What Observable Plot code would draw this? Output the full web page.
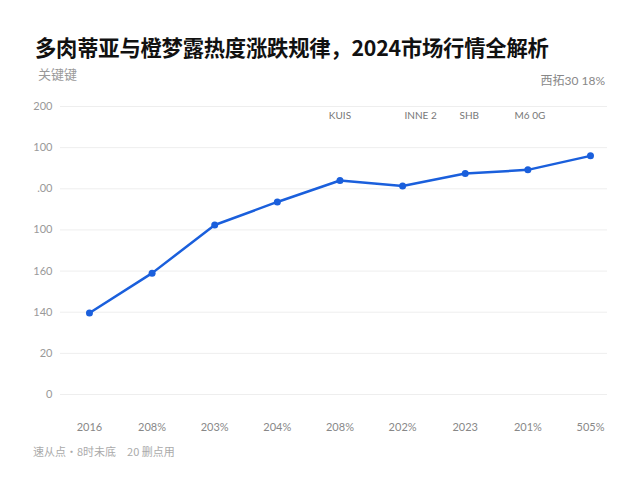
<!DOCTYPE html>
<html><head><meta charset="utf-8">
<script src="https://cdn.jsdelivr.net/npm/d3@7"></script>
<script src="https://cdn.jsdelivr.net/npm/@observablehq/plot@0.6"></script>
<style>
body{margin:0;width:640px;height:480px;background:#fff;position:relative;overflow:hidden;font-family:"Noto Sans CJK SC","Noto Sans",sans-serif;}
#title{position:absolute;left:35px;top:31px;font-size:21.3px;font-weight:bold;color:#111;white-space:nowrap;letter-spacing:-0.2px;}
#ylab{position:absolute;left:38px;top:64px;font-size:13px;color:#999;}
#note{position:absolute;right:35px;top:71px;font-size:12px;color:#888;font-family:Lato,"Noto Sans CJK SC",sans-serif;}
#cap{position:absolute;left:33px;top:443px;font-size:11px;color:#aaa;}
#chart{position:absolute;left:0;top:60px;}
</style></head>
<body>
<div id="title">多肉蒂亚与橙梦露热度涨跌规律，2024市场行情全解析</div>
<div id="ylab">关键键</div>
<div id="note">西拓30 18%</div>
<div id="cap">速从点·8时未底　20 删点用</div>
<div id="chart"></div>
<script>
const categories = ["2016","208%","203%","204%","208%","202%","2023","201%","505%"];
const values = [39.6, 59, 82.4, 93.6, 104, 101.4, 107.4, 109.2, 116];
const yTickValues = [0, 20, 40, 60, 80, 100, 120, 140];
const yTickLabels = ["0", "20", "140", "160", "100", ".00", "100", "200"];
const annoIndex = [4, 5, 6, 7];
const annoTexts = ["KUIS", "INNE 2", "SHB", "M6 0G"];
const annoShift = [0, 18, 4, 2];

const idx = categories.map((c, i) => i);
const data = categories.map((c, i) => ({i, v: values[i]}));
const anno = annoIndex.map((k, j) => ({i: k, t: annoTexts[j], dx: annoShift[j]}));
const blue = "#1a5fdc";

const chart = Plot.plot({
  width: 640,
  height: 400,
  marginLeft: 60,
  marginRight: 33,
  marginTop: 46,
  marginBottom: 66,
  style: {fontFamily: "Lato, 'Noto Sans', sans-serif", fontSize: "11px", color: "#999", background: "transparent"},
  x: {type: "point", domain: idx, padding: 0.367, align: 0.63, round: false, label: null},
  y: {domain: [0, 140], label: null},
  marks: [
    Plot.ruleY(yTickValues, {stroke: "#eeeeee", strokeWidth: 1}),
    Plot.axisY({ticks: yTickValues, tickSize: 0, tickPadding: 8, tickFormat: (d) => yTickLabels[yTickValues.indexOf(d)], fill: "#999", fontSize: 11}),
    Plot.axisX({ticks: idx, tickSize: 0, tickPadding: 29, tickFormat: (d) => categories[d], fill: "#888", fontSize: 11}),
    Plot.line(data, {x: "i", y: "v", stroke: blue, strokeWidth: 2.5}),
    Plot.dot(data, {x: "i", y: "v", r: 3.5, fill: blue}),
    ...anno.map(a => Plot.text([a], {x: "i", frameAnchor: "top", dy: 5, dx: a.dx, text: "t", fill: "#777", fontSize: 10}))
  ]
});
document.getElementById("chart").appendChild(chart);
</script>
</body></html>
